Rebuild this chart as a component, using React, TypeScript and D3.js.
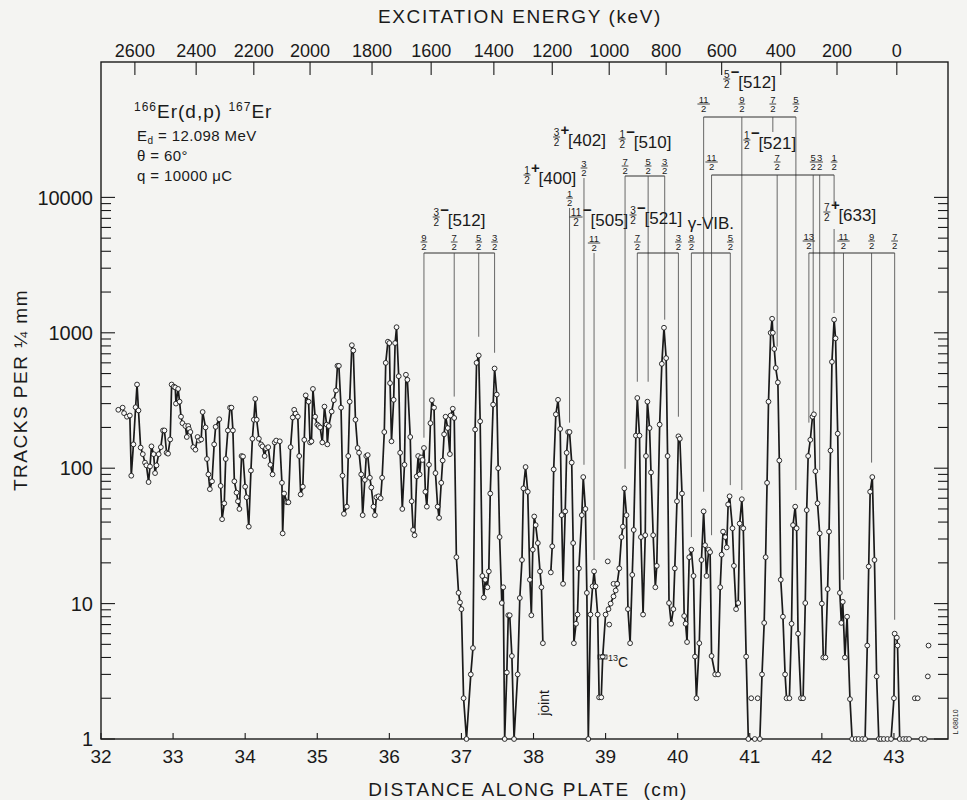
import React from 'react';
import * as d3 from 'd3';

// axis content
const distanceTicks = d3.range(32, 44);
const countDecades = [1, 10, 100, 1000, 10000];
const energyTicks = [2600, 2400, 2200, 2000, 1800, 1600, 1400, 1200, 1000, 800, 600, 400, 200, 0];
const energyAtCm = [32.47, 33.32, 34.12, 34.9, 35.76, 36.58, 37.45, 38.26, 39.05, 39.84, 40.61, 41.43, 42.21, 43.04];

// [distance cm, tracks per 1/4 mm] - run before the plate joint
const runA: [number, number][] = [
  [32.24, 270], [32.3, 280], [32.32, 255], [32.36, 240], [32.4, 245], [32.42, 88], [32.45, 150], [32.48, 282],
  [32.5, 415], [32.52, 267], [32.55, 142], [32.58, 127], [32.61, 110], [32.63, 105], [32.66, 79], [32.68, 103],
  [32.7, 145], [32.73, 127], [32.75, 92], [32.77, 105], [32.8, 127], [32.83, 143], [32.86, 190], [32.88, 190],
  [32.91, 130], [32.93, 128], [32.96, 163], [32.98, 415], [33.01, 400], [33.03, 395], [33.04, 300], [33.07, 385],
  [33.09, 310], [33.11, 240], [33.13, 215], [33.17, 205], [33.19, 170], [33.21, 205], [33.22, 195], [33.24, 185],
  [33.28, 143], [33.31, 137], [33.34, 170], [33.36, 160], [33.39, 163], [33.41, 260], [33.45, 200], [33.47, 117],
  [33.49, 90], [33.51, 70], [33.54, 80], [33.57, 150], [33.59, 202], [33.64, 230], [33.66, 74], [33.68, 42],
  [33.71, 55], [33.73, 117], [33.76, 190], [33.79, 280], [33.81, 280], [33.83, 190], [33.85, 80], [33.88, 66],
  [33.9, 57], [33.92, 50], [33.95, 123], [33.97, 122], [34.0, 73], [34.02, 61], [34.05, 37], [34.08, 96],
  [34.1, 165], [34.12, 228], [34.14, 325], [34.16, 228], [34.19, 165], [34.22, 150], [34.24, 145], [34.27, 123],
  [34.29, 140], [34.32, 143], [34.35, 106], [34.38, 90], [34.41, 155], [34.43, 160], [34.48, 158], [34.51, 78],
  [34.52, 33], [34.54, 65], [34.58, 56], [34.6, 56], [34.63, 143], [34.66, 237], [34.68, 270], [34.7, 253],
  [34.73, 240], [34.75, 123], [34.77, 64], [34.8, 73], [34.82, 162], [34.84, 345], [34.88, 310], [34.9, 155],
  [34.92, 158], [34.94, 385], [34.97, 240], [35.0, 210], [35.02, 205], [35.04, 200], [35.07, 155], [35.1, 285],
  [35.13, 210], [35.14, 150], [35.16, 205], [35.2, 262], [35.23, 318], [35.26, 375], [35.28, 570], [35.3, 570],
  [35.33, 280], [35.35, 88], [35.37, 46], [35.41, 52], [35.43, 123], [35.45, 310], [35.48, 810], [35.5, 740],
  [35.53, 228], [35.56, 141], [35.58, 130], [35.61, 90], [35.63, 45], [35.66, 82], [35.68, 123], [35.7, 125],
  [35.73, 85], [35.75, 72], [35.78, 52], [35.8, 45], [35.82, 61], [35.85, 62], [35.88, 60], [35.9, 85],
  [35.93, 185], [35.95, 600], [35.98, 860], [36.0, 840], [36.01, 425], [36.03, 158], [36.06, 320], [36.08, 840],
  [36.1, 1100], [36.13, 478], [36.15, 130], [36.18, 50], [36.21, 106], [36.23, 490], [36.25, 450], [36.29, 170],
  [36.31, 57], [36.33, 35], [36.35, 32], [36.38, 87], [36.4, 123], [36.42, 90], [36.44, 120], [36.46, 115],
  [36.48, 141], [36.5, 67], [36.52, 52], [36.55, 106], [36.57, 215], [36.59, 318], [36.62, 280], [36.64, 92],
  [36.67, 52], [36.69, 43], [36.72, 78], [36.74, 114], [36.76, 178], [36.78, 240], [36.81, 198], [36.84, 127],
  [36.85, 245], [36.88, 275], [36.9, 235], [36.93, 22], [36.96, 12], [36.98, 10.2], [37.0, 9.1], [37.03, 2],
  [37.07, 1], [37.13, 3], [37.16, 4.7], [37.19, 193], [37.21, 600], [37.24, 680], [37.26, 222], [37.29, 16],
  [37.31, 11.1], [37.33, 15], [37.36, 13.2], [37.38, 17.3], [37.4, 65], [37.44, 295], [37.46, 545], [37.49, 350],
  [37.51, 100], [37.53, 31], [37.56, 10.1], [37.58, 13.2], [37.6, 1], [37.63, 3.1], [37.65, 8.2], [37.67, 8.2],
  [37.7, 4.1], [37.73, 1], [37.78, 3], [37.81, 11], [37.84, 21], [37.86, 71], [37.89, 102], [37.92, 67],
  [37.95, 15], [37.97, 8.2], [37.99, 25], [38.01, 44], [38.03, 38], [38.06, 28], [38.09, 17.3], [38.11, 13.2],
  [38.13, 5.1],
];

// run after the joint, to the ground state and beyond
const runB: [number, number][] = [
  [38.24, 17], [38.26, 26.5], [38.28, 98], [38.31, 250], [38.34, 320], [38.37, 195], [38.39, 45], [38.41, 14],
  [38.44, 48], [38.46, 130], [38.48, 185], [38.5, 185], [38.53, 110], [38.55, 28], [38.56, 5.1], [38.59, 7.1],
  [38.61, 8.3], [38.63, 18.2], [38.67, 45], [38.69, 86], [38.72, 50], [38.74, 12], [38.76, 1], [38.79, 8.3],
  [38.82, 13.4], [38.84, 17.3], [38.86, 13.4], [38.89, 8.3], [38.91, 2.03], [38.94, 2.03], [38.96, 4.06], [39.0, 8.3],
  [39.04, 9.1], [39.07, 10], [39.11, 11.3], [39.14, 12.5], [39.16, 14], [39.19, 18.2], [39.22, 31], [39.24, 37],
  [39.26, 71], [39.29, 45], [39.31, 9.1], [39.34, 5.1], [39.37, 16.3], [39.39, 35], [39.42, 174], [39.44, 330],
  [39.47, 174], [39.49, 31], [39.52, 8.3], [39.55, 32], [39.56, 123], [39.58, 310], [39.61, 198], [39.63, 93],
  [39.66, 32], [39.69, 13.2], [39.71, 19], [39.75, 210], [39.78, 590], [39.81, 1090], [39.84, 650], [39.86, 123],
  [39.88, 10.1], [39.91, 7.1], [39.94, 9.1], [39.96, 18.2], [39.99, 57], [40.01, 172], [40.03, 165], [40.06, 65],
  [40.09, 8.1], [40.11, 7.1], [40.13, 5.2], [40.16, 22], [40.19, 25], [40.22, 16], [40.24, 4.06], [40.26, 2],
  [40.3, 5.1], [40.33, 21], [40.36, 48], [40.38, 27], [40.4, 16], [40.43, 25], [40.45, 24], [40.47, 4.1],
  [40.52, 3], [40.56, 3], [40.59, 13.2], [40.61, 23], [40.63, 34], [40.66, 31], [40.68, 26], [40.7, 54],
  [40.72, 62], [40.76, 36], [40.78, 19], [40.81, 9.1], [40.84, 10.1], [40.86, 39], [40.89, 59], [40.91, 36],
  [40.95, 4.06], [40.98, 1], [41.07, 1], [41.14, 1], [41.17, 3], [41.2, 7.2], [41.22, 22], [41.24, 78],
  [41.26, 310], [41.29, 1000], [41.31, 1270], [41.32, 1000], [41.34, 760], [41.36, 550], [41.39, 430], [41.41, 114],
  [41.43, 15], [41.46, 8], [41.49, 3], [41.51, 2], [41.55, 2], [41.58, 7.1], [41.6, 38], [41.63, 52],
  [41.65, 36], [41.67, 6], [41.71, 2], [41.74, 2], [41.77, 10.1], [41.79, 49], [41.81, 123], [41.84, 162],
  [41.87, 240], [41.89, 250], [41.91, 95], [41.94, 55], [41.97, 33], [42.0, 10], [42.02, 4], [42.05, 4],
  [42.08, 12.8], [42.1, 34], [42.12, 135], [42.14, 610], [42.17, 1250], [42.19, 910], [42.22, 180], [42.25, 12],
  [42.27, 7.2], [42.29, 10.3], [42.32, 4], [42.35, 8], [42.39, 1.97], [42.42, 1], [42.47, 1], [42.51, 1],
  [42.56, 1], [42.6, 1], [42.63, 4.9], [42.65, 18.8], [42.67, 67], [42.7, 86], [42.73, 21], [42.76, 2.9],
  [42.79, 1], [42.82, 1], [42.86, 1], [42.91, 1], [42.96, 1], [43.0, 2], [43.01, 6], [43.04, 5.6],
  [43.05, 4.9], [43.08, 1], [43.13, 1], [43.17, 1], [43.21, 1],
];

// open circles not joined by the line (13C region, tail)
const loosePoints: [number, number][] = [
  [39.03, 20.5], [39.05, 7], [39.11, 14], [39.16, 14], [41.02, 2], [41.11, 2],
  [43.29, 2], [43.33, 2], [43.38, 1], [43.43, 1], [43.47, 2.9], [43.48, 4.9],
];

// rotational bands: K, parity, Nilsson label, levels [I num, I den, cm, count where line stops]
const bands = [
  { id: 'b512a', n: '3', d: '2', sign: '−', orbit: '[512]', at: 36.65,
    levels: [['9', '2', 36.48, 168], ['7', '2', 36.9, 338], ['5', '2', 37.24, 935], ['3', '2', 37.46, 712]] },
  { id: 'b400', n: '1', d: '2', sign: '+', orbit: '[400]', at: 37.91, levels: [['1', '2', 38.5, 217]] },
  { id: 'b402', n: '3', d: '2', sign: '+', orbit: '[402]', at: 38.32, levels: [['3', '2', 38.7, 106]] },
  { id: 'b505', n: '11', d: '2', sign: '−', orbit: '[505]', at: 38.59, levels: [['11', '2', 38.84, 21]] },
  { id: 'b510', n: '1', d: '2', sign: '−', orbit: '[510]', at: 39.23,
    levels: [['7', '2', 39.27, 99], ['5', '2', 39.59, 435], ['3', '2', 39.82, 1250]] },
  { id: 'b521a', n: '3', d: '2', sign: '−', orbit: '[521]', at: 39.38,
    levels: [['7', '2', 39.44, 435], ['3', '2', 40.01, 240]] },
  { id: 'gvib', n: '', d: '', sign: '', orbit: 'γ-VIB.', at: 40.14,
    levels: [['9', '2', 40.19, 31], ['5', '2', 40.73, 75]] },
  { id: 'b512b', n: '5', d: '2', sign: '−', orbit: '[512]', at: 40.68,
    levels: [['11', '2', 40.36, 67], ['9', '2', 40.89, 69], ['7', '2', 41.32, 0], ['5', '2', 41.64, 69]] },
  { id: 'b521b', n: '1', d: '2', sign: '−', orbit: '[521]', at: 40.96,
    levels: [['11', '2', 40.47, 32], ['7', '2', 41.38, 790], ['5', '2', 41.88, 258], ['3', '2', 41.97, 97], ['1', '2', 42.17, 1400]] },
  { id: 'b633', n: '7', d: '2', sign: '+', orbit: '[633]', at: 42.07,
    levels: [['13', '2', 41.82, 217], ['11', '2', 42.3, 15], ['9', '2', 42.69, 110], ['7', '2', 43.01, 7.6]] },
];

// where each band sits vertically on the sheet (px)
const rows: Record<string, { label: number; spin: number; bar?: number }> = {
  b512a: { label: 220, spin: 242, bar: 253 },
  b400: { label: 178, spin: 198 },
  b402: { label: 140, spin: 168 },
  b505: { label: 220, spin: 243 },
  b510: { label: 142, spin: 166, bar: 176 },
  b521a: { label: 218, spin: 242, bar: 253 },
  gvib: { label: 223, spin: 242, bar: 253 },
  b512b: { label: 82, spin: 104, bar: 117 },
  b521b: { label: 143, spin: 162, bar: 175 },
  b633: { label: 215, spin: 241, bar: 253 },
};

const INK = '#1a1a1a';
const FONT = '"Liberation Sans", Arial, sans-serif';

function Frac({ x, y, n, d, size }: { x: number; y: number; n: string; d: string; size: number }) {
  const w = Math.max(n.length, d.length) * size * 0.6 + 1;
  return (
    <g fontSize={size} textAnchor="middle">
      <text x={x} y={y - 1.5}>{n}</text>
      <line x1={x - w / 2} x2={x + w / 2} y1={y} y2={y} stroke={INK} strokeWidth={0.8} />
      <text x={x} y={y + size * 0.88}>{d}</text>
    </g>
  );
}

export default function App() {
  const left = 101, right = 948, top = 62, bottom = 739;
  const x = d3.scaleLinear().domain([32, 43.75]).range([left, right]);
  const y = d3.scaleLog().domain([1, 100000]).range([bottom, top]);
  const energyToCm = d3.scaleLinear().domain(energyTicks).range(energyAtCm);

  const line = d3
    .line<[number, number]>()
    .x(d => x(d[0]))
    .y(d => y(d[1]));

  const minor: { v: number; major: boolean }[] = [];
  countDecades.slice(0, 4).forEach(dec => {
    d3.range(1, 10).forEach(m => minor.push({ v: m * dec, major: m === 1 }));
  });
  minor.push({ v: 10000, major: true });

  const allPoints = [...runA, ...runB, ...loosePoints];

  return (
    <svg width={967} height={800} style={{ position: 'absolute', left: 0, top: 0 }} fontFamily={FONT} fill={INK}>
      <rect width={967} height={800} fill="#f4f4f2" />
      <rect x={left} y={top} width={right - left} height={bottom - top} fill="none" stroke={INK} strokeWidth={1.4} />

      {/* count axis, both sides */}
      {minor.map(t => (
        <g key={'yt' + t.v} stroke={INK} strokeWidth={1.1}>
          <line x1={left} x2={left + (t.major ? 14 : 10)} y1={y(t.v)} y2={y(t.v)} />
          <line x1={right} x2={right - (t.major ? 14 : 10)} y1={y(t.v)} y2={y(t.v)} />
        </g>
      ))}
      {countDecades.map(v => (
        <text key={'yl' + v} x={93} y={y(v)} dy="0.36em" textAnchor="end" fontSize={20}>{v}</text>
      ))}
      <text transform="translate(27,390) rotate(-90)" textAnchor="middle" fontSize={19} letterSpacing={1.5}>
        TRACKS PER ¼ mm
      </text>

      {/* distance axis */}
      {distanceTicks.map(v => (
        <g key={'xt' + v}>
          <line x1={x(v)} x2={x(v)} y1={bottom} y2={bottom - 6} stroke={INK} strokeWidth={1.1} />
          <text x={x(v)} y={763} textAnchor="middle" fontSize={19}>{v}</text>
        </g>
      ))}
      <text x={528} y={796} textAnchor="middle" fontSize={19} letterSpacing={1.6}>
        DISTANCE ALONG PLATE{'\u00a0\u00a0'}(cm)
      </text>

      {/* excitation energy axis */}
      {energyTicks.map(e => (
        <g key={'et' + e}>
          <line x1={x(energyToCm(e))} x2={x(energyToCm(e))} y1={top} y2={top + 13} stroke={INK} strokeWidth={1.1} />
          <text x={x(energyToCm(e))} y={57} textAnchor="middle" fontSize={18}>{e}</text>
        </g>
      ))}
      <text x={520} y={23} textAnchor="middle" fontSize={19} letterSpacing={1.6}>
        EXCITATION ENERGY (keV)
      </text>

      {/* reaction info */}
      <g>
        <text x={134} y={118} fontSize={19} letterSpacing={1}>
          <tspan fontSize={12} dy={-7}>166</tspan>
          <tspan dy={7}>Er(d,p) </tspan>
          <tspan fontSize={12} dy={-7}>167</tspan>
          <tspan dy={7}>Er</tspan>
        </text>
        <text x={137} y={141} fontSize={15} letterSpacing={0.4}>
          E<tspan fontSize={10} dy={3}>d</tspan><tspan dy={-3}> = 12.098 MeV</tspan>
        </text>
        <text x={137} y={161} fontSize={15} letterSpacing={0.4}>θ = 60°</text>
        <text x={137} y={181} fontSize={15} letterSpacing={0.4}>q = 10000 μC</text>
      </g>

      {/* level scheme */}
      {bands.map(b => {
        const r = rows[b.id];
        const xs = b.levels.map(l => x(l[2] as number));
        const fx = x(b.at);
        const fw = Math.max(b.n.length, 1) * 6 + 1;
        return (
          <g key={b.id}>
            {b.n ? (
              <g>
                <Frac x={fx} y={r.label - 3} n={b.n} d={b.d} size={10} />
                <text x={fx + fw / 2 + 0.5} y={r.label - 5} fontSize={15} fontWeight="bold">{b.sign}</text>
                <text x={fx + fw / 2 + 8} y={r.label + 6} fontSize={17}>{b.orbit}</text>
              </g>
            ) : (
              <text x={fx} y={r.label + 6} fontSize={17}>{b.orbit}</text>
            )}
            {r.bar !== undefined && (
              <line x1={d3.min(xs)} x2={d3.max(xs)} y1={r.bar} y2={r.bar} stroke={INK} strokeWidth={0.9} />
            )}
            {b.levels.map((l, i) => {
              const lx = xs[i];
              const y0 = r.bar !== undefined ? r.bar : r.spin + 10;
              const stop = l[3] as number;
              let segs: [number, number][] = [[y0, stop > 0 ? y(stop) : rows.b521b.label - 11]];
              if (b.id === 'b521b' && l[0] === '1') segs = [[y0, 204], [229, y(stop)]];
              return (
                <g key={i}>
                  <Frac x={lx} y={r.spin} n={l[0] as string} d={l[1] as string} size={9.5} />
                  {segs.map((s, j) => (
                    <line key={j} x1={lx} x2={lx} y1={s[0]} y2={s[1]} stroke="#444" strokeWidth={0.8} />
                  ))}
                </g>
              );
            })}
          </g>
        );
      })}

      {/* spectrum */}
      <path d={line(runA) || ''} fill="none" stroke={INK} strokeWidth={1.7} strokeLinejoin="round" />
      <path d={line(runB) || ''} fill="none" stroke={INK} strokeWidth={1.7} strokeLinejoin="round" />
      {allPoints.map((p, i) => (
        <circle key={i} cx={x(p[0])} cy={y(p[1])} r={2.4} fill="#fafafa" stroke={INK} strokeWidth={0.9} />
      ))}

      {/* notes on the plate */}
      <text transform="translate(549,703) rotate(-90)" textAnchor="middle" fontSize={14}>joint</text>
      <rect x={598} y={655} width={9} height={4} fill="none" stroke={INK} strokeWidth={0.8} />
      <text x={608} y={667} fontSize={14}>
        <tspan fontSize={9} dy={-6}>13</tspan>
        <tspan dy={6}>C</tspan>
      </text>
      <text transform="translate(958,722) rotate(-90)" textAnchor="middle" fontSize={7}>L 68010</text>
    </svg>
  );
}
